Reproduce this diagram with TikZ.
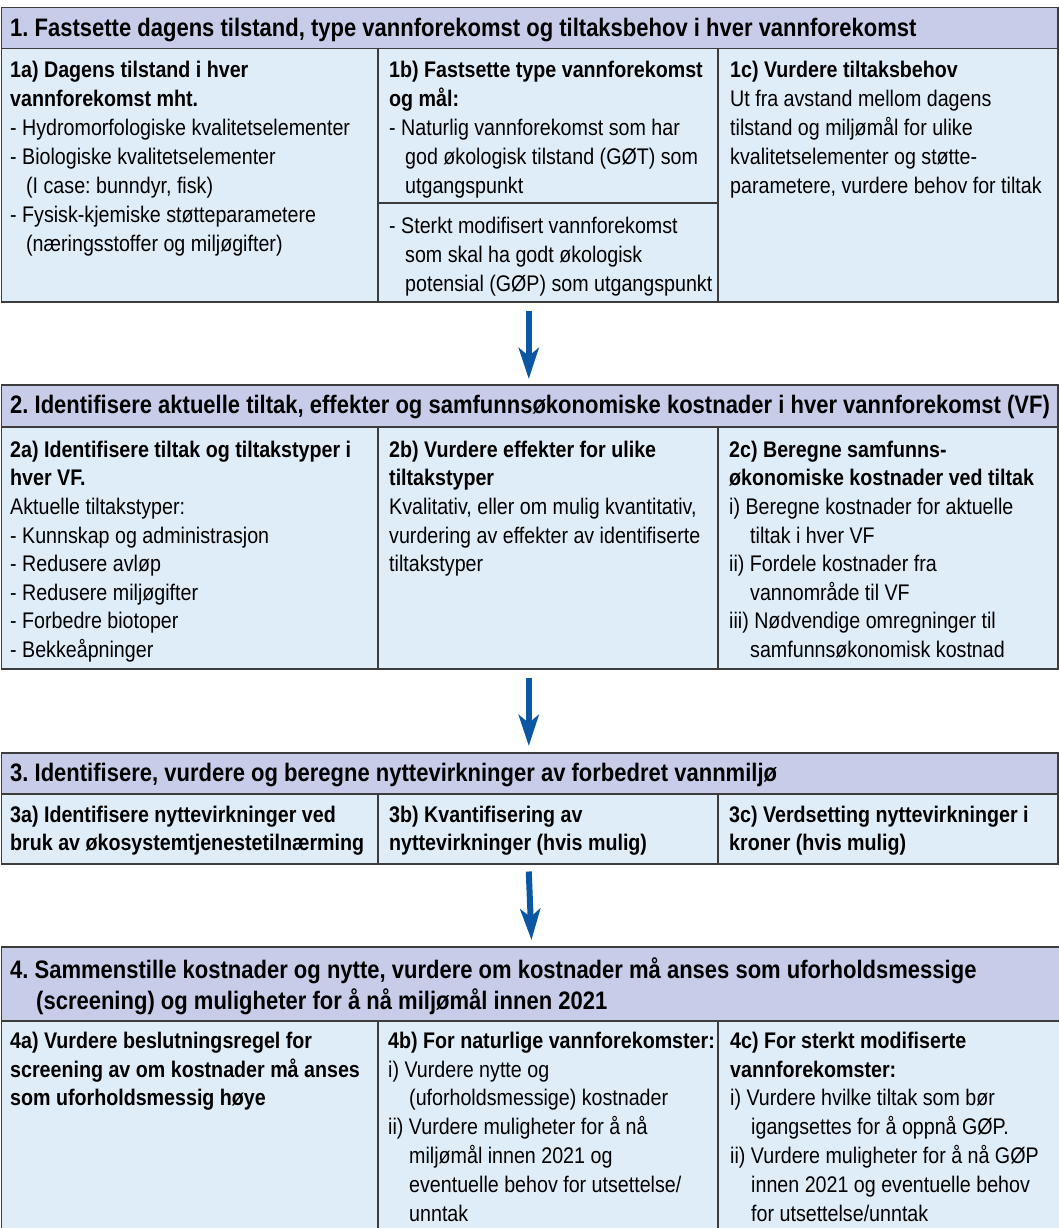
\documentclass[tikz,border=0pt]{standalone}
\usepackage{fontspec}
\setmainfont{Liberation Sans}[FakeStretch=0.87]
\usetikzlibrary{arrows.meta}
\definecolor{hdrfill}{HTML}{C7CDE8}
\definecolor{cellfill}{HTML}{DFEDF8}
\definecolor{edgegray}{HTML}{3C3C3C}
\definecolor{arrowblue}{HTML}{0B57A4}
\newcommand\fst{\rule{0pt}{20pt}}
\newcommand\ind[1]{\hspace*{#1pt}}
\frenchspacing
\tikzset{
  hdrbox/.style={draw=edgegray, fill=hdrfill, line width=1.5pt, inner sep=0pt, anchor=north west},
  cellbox/.style={draw=edgegray, fill=cellfill, line width=1.5pt, inner sep=0pt, anchor=north west},
  divline/.style={draw=edgegray, line width=1.5pt},
  hdrtext/.style={anchor=north west, inner sep=0pt, align=left, font=\fontsize{25.3}{31}\selectfont\bfseries\frenchspacing},
  celltext/.style={anchor=north west, inner sep=0pt, align=left, font=\fontsize{22.6}{#1}\selectfont\frenchspacing},
  celltext/.default=28.8,
  flowarrow/.style={draw=arrowblue, line width=6pt, -{Stealth[length=31pt,width=20pt,inset=8pt]}}
}
\begin{document}
\begin{tikzpicture}[x=1pt,y=-1pt]
\useasboundingbox (0,0) rectangle (1058,1228);

% ---------- Section 1 ----------
\node[cellbox, minimum width=1056.5pt, minimum height=253pt] (b1) at (0.75,48) {};
\node[hdrbox, minimum width=1056.5pt, minimum height=41pt] (h1) at (0.75,7) {};
\draw[divline] (378,48) -- (378,301);
\draw[divline] (718,48) -- (718,301);
\draw[divline] (378,203) -- (718,203);
\node[hdrtext] (t1) at (10,16) {\fst 1. Fastsette dagens tilstand, type vannforekomst og tiltaksbehov i hver vannforekomst};
\node[celltext=29] (t1a) at (10,57) {\fst\textbf{1a) Dagens tilstand i hver}\\
\textbf{vannforekomst mht.}\\
- Hydromorfologiske kvalitetselementer\\
- Biologiske kvalitetselementer\\
\ind{16}(I case: bunndyr, fisk)\\
- Fysisk-kjemiske støtteparametere\\
\ind{16}(næringsstoffer og miljøgifter)};
\node[celltext=29] (t1b) at (389,57) {\fst\textbf{1b) Fastsette type vannforekomst}\\
\textbf{og mål:}\\
- Naturlig vannforekomst som har\\
\ind{16}god økologisk tilstand (GØT) som\\
\ind{16}utgangspunkt};
\node[celltext=29] (t1b2) at (389,213) {\fst - Sterkt modifisert vannforekomst\\
\ind{16}som skal ha godt økologisk\\
\ind{16}potensial (GØP) som utgangspunkt};
\node[celltext=29] (t1c) at (730,57) {\fst\textbf{1c) Vurdere tiltaksbehov}\\
Ut fra avstand mellom dagens\\
tilstand og miljømål for ulike\\
kvalitetselementer og støtte-\\
parametere, vurdere behov for tiltak};

% ---------- Section 2 ----------
\node[cellbox, minimum width=1056.5pt, minimum height=242pt] (b2) at (0.75,426) {};
\node[hdrbox, minimum width=1056.5pt, minimum height=42pt] (h2) at (0.75,384) {};
\draw[divline] (378,426) -- (378,668);
\draw[divline] (718,426) -- (718,668);
\node[hdrtext] (t2) at (10,393.5) {\fst 2. Identifisere aktuelle tiltak, effekter og samfunnsøkonomiske kostnader i hver vannforekomst (VF)};
\node[celltext=28.6] (t2a) at (10,437) {\fst\textbf{2a) Identifisere tiltak og tiltakstyper i}\\
\textbf{hver VF.}\\
Aktuelle tiltakstyper:\\
- Kunnskap og administrasjon\\
- Redusere avløp\\
- Redusere miljøgifter\\
- Forbedre biotoper\\
- Bekkeåpninger};
\node[celltext=28.6] (t2b) at (389,437) {\fst\textbf{2b) Vurdere effekter for ulike}\\
\textbf{tiltakstyper}\\
Kvalitativ, eller om mulig kvantitativ,\\
vurdering av effekter av identifiserte\\
tiltakstyper};
\node[celltext=28.6] (t2c) at (729,437) {\fst\textbf{2c) Beregne samfunns-}\\
\textbf{økonomiske kostnader ved tiltak}\\
i) Beregne kostnader for aktuelle\\
\ind{21}tiltak i hver VF\\
ii) Fordele kostnader fra\\
\ind{21}vannområde til VF\\
iii) Nødvendige omregninger til\\
\ind{21}samfunnsøkonomisk kostnad};

% ---------- Section 3 ----------
\node[cellbox, minimum width=1056.5pt, minimum height=70pt] (b3) at (0.75,793) {};
\node[hdrbox, minimum width=1056.5pt, minimum height=41pt] (h3) at (0.75,752) {};
\draw[divline] (378,793) -- (378,863);
\draw[divline] (718,793) -- (718,863);
\node[hdrtext] (t3) at (10,761.5) {\fst 3. Identifisere, vurdere og beregne nyttevirkninger av forbedret vannmiljø};
\node[celltext=28] (t3a) at (10,802) {\fst\textbf{3a) Identifisere nyttevirkninger ved}\\
\textbf{bruk av økosystemtjenestetilnærming}};
\node[celltext=28] (t3b) at (389,802) {\fst\textbf{3b) Kvantifisering av}\\
\textbf{nyttevirkninger (hvis mulig)}};
\node[celltext=28] (t3c) at (729,802) {\fst\textbf{3c) Verdsetting nyttevirkninger i}\\
\textbf{kroner (hvis mulig)}};

% ---------- Section 4 ----------
\node[cellbox, minimum width=1062pt, minimum height=230pt] (b4) at (0.75,1020) {};
\node[hdrbox, minimum width=1062pt, minimum height=74pt] (h4) at (0.75,946) {};
\draw[divline] (378,1020) -- (378,1250);
\draw[divline] (718,1020) -- (718,1250);
\node[hdrtext] (t4) at (10,957) {\fst 4. Sammenstille kostnader og nytte, vurdere om kostnader må anses som uforholdsmessige\\
\ind{26}(screening) og muligheter for å nå miljømål innen 2021};
\node[celltext=28.8] (t4a) at (10,1028) {\fst\textbf{4a) Vurdere beslutningsregel for}\\
\textbf{screening av om kostnader må anses}\\
\textbf{som uforholdsmessig høye}};
\node[celltext=28.8] (t4b) at (388,1028) {\fst\textbf{4b) For naturlige vannforekomster:}\\
i) Vurdere nytte og\\
\ind{21}(uforholdsmessige) kostnader\\
ii) Vurdere muligheter for å nå\\
\ind{21}miljømål innen 2021 og\\
\ind{21}eventuelle behov for utsettelse/\\
\ind{21}unntak};
\node[celltext=28.8] (t4c) at (730,1028) {\fst\textbf{4c) For sterkt modifiserte}\\
\textbf{vannforekomster:}\\
i) Vurdere hvilke tiltak som bør\\
\ind{21}igangsettes for å oppnå GØP.\\
ii) Vurdere muligheter for å nå GØP\\
\ind{21}innen 2021 og eventuelle behov\\
\ind{21}for utsettelse/unntak};

% ---------- Arrows ----------
\draw[flowarrow] ([xshift=-1pt,yshift=-8pt]b1.south) -- ([xshift=-1pt,yshift=5pt]h2.north);
\draw[flowarrow] ([xshift=-1pt,yshift=-8pt]b2.south) -- ([xshift=-1pt,yshift=6pt]h3.north);
\draw[flowarrow] ([xshift=-1pt,yshift=-7pt]b3.south) -- ([xshift=-1pt,yshift=6pt]h4.north);
\end{tikzpicture}
\end{document}
